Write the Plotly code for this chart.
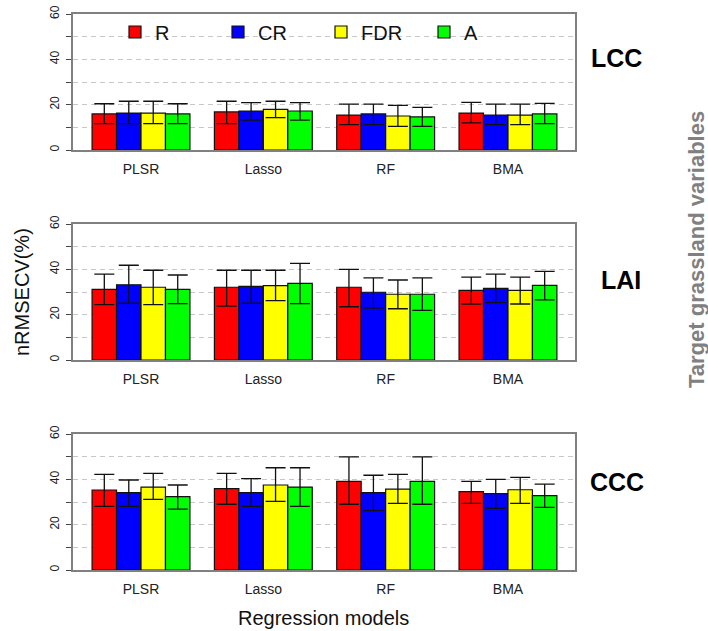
import plotly.graph_objects as go

W, H = 708, 631

models = ["PLSR", "Lasso", "RF", "BMA"]
methods = ["R", "CR", "FDR", "A"]
colors = {"R": "#FF0000", "CR": "#0000FF", "FDR": "#FFFF00", "A": "#00FF00"}
variables = ["LCC", "LAI", "CCC"]

# bar heights (nRMSECV %) per variable and method, in the order of models
mean_LCC = {"R": [15.9, 16.8, 15.4, 16.3], "CR": [16.3, 17.2, 15.9, 15.4],
            "FDR": [16.3, 17.9, 15.0, 15.4], "A": [15.9, 17.2, 14.6, 15.9]}
hi_LCC = {"R": [20.4, 21.5, 20.2, 21.0], "CR": [21.5, 20.9, 20.2, 20.2],
          "FDR": [21.5, 21.5, 19.7, 20.2], "A": [20.4, 20.9, 18.8, 20.6]}
lo_LCC = {"R": [11.6, 11.6, 11.2, 12.0], "CR": [11.6, 13.2, 11.2, 11.2],
          "FDR": [11.6, 14.3, 10.4, 11.2], "A": [11.6, 13.2, 10.4, 11.6]}

mean_LAI = {"R": [31.2, 32.1, 32.1, 30.7], "CR": [33.2, 32.5, 29.9, 31.6],
            "FDR": [32.1, 32.8, 29.0, 30.7], "A": [31.2, 33.8, 29.0, 32.9]}
hi_LAI = {"R": [37.9, 39.6, 40.0, 36.6], "CR": [41.8, 39.6, 36.2, 37.9],
          "FDR": [39.6, 39.6, 35.3, 36.6], "A": [37.5, 42.6, 36.2, 39.1]}
lo_LAI = {"R": [24.4, 23.8, 23.5, 24.7], "CR": [25.1, 25.1, 22.9, 25.3],
          "FDR": [24.4, 26.2, 22.6, 24.7], "A": [24.9, 24.9, 21.9, 26.5]}

mean_CCC = {"R": [35.3, 35.9, 39.1, 34.6], "CR": [34.1, 34.1, 34.1, 33.7],
            "FDR": [36.6, 37.5, 35.7, 35.4], "A": [32.4, 36.6, 39.1, 32.8]}
hi_CCC = {"R": [42.2, 42.6, 49.9, 39.1], "CR": [39.7, 40.3, 41.8, 40.0],
          "FDR": [42.6, 45.1, 42.2, 40.9], "A": [37.5, 45.1, 49.9, 37.9]}
lo_CCC = {"R": [28.1, 29.0, 29.0, 29.4], "CR": [28.1, 28.1, 26.2, 27.2],
          "FDR": [31.2, 30.3, 29.4, 29.4], "A": [26.9, 28.1, 29.0, 27.6]}

y_tickvals = [0, 10, 20, 30, 40, 50, 60]
y_ticktext = ["0", "", "20", "", "40", "", "60"]

data = {"LCC": (mean_LCC, hi_LCC, lo_LCC),
        "LAI": (mean_LAI, hi_LAI, lo_LAI),
        "CCC": (mean_CCC, hi_CCC, lo_CCC)}

FONT = "Liberation Sans, Arial, sans-serif"

# panel geometry in pixels (top, bottom)
x_px = (73, 575)
panels_px = [(14, 150), (224, 360), (434, 570)]

fig = go.Figure()
layout = dict(
    width=W, height=H, margin=dict(l=0, r=0, t=0, b=0, pad=0, autoexpand=False),
    paper_bgcolor="white", plot_bgcolor="white",
    barmode="group", bargap=0.2, bargroupgap=0,
    font=dict(family=FONT, color="#222222"),
    showlegend=True,
)

for i, var in enumerate(variables):
    mean, hi, lo = data[var]
    xa = "x" if i == 0 else f"x{i+1}"
    ya = "y" if i == 0 else f"y{i+1}"
    for m in methods:
        up = [h - v for h, v in zip(hi[m], mean[m])]
        dn = [v - l for v, l in zip(mean[m], lo[m])]
        fig.add_trace(go.Bar(
            x=models, y=mean[m], name=m, xaxis=xa, yaxis=ya,
            marker=dict(color=colors[m], line=dict(color="#111111", width=1.2)),
            error_y=dict(type="data", array=up, arrayminus=dn, symmetric=False,
                         color="#111111", thickness=1.3, width=10),
            showlegend=(i == 0), legendgroup=m,
        ))
    top, bot = panels_px[i]
    xkey = "xaxis" if i == 0 else f"xaxis{i+1}"
    ykey = "yaxis" if i == 0 else f"yaxis{i+1}"
    layout[xkey] = dict(
        domain=[x_px[0] / W, x_px[1] / W], anchor=ya,
        range=[-0.556, 3.548], type="category",
        showline=True, mirror=True, linecolor="#808080", linewidth=2,
        ticks="", showgrid=False, zeroline=False, ticklabelstandoff=5,
        tickfont=dict(size=14, color="#222222"),
    )
    layout[ykey] = dict(
        domain=[1 - bot / H, 1 - top / H], anchor=xa,
        range=[0, 60], tickvals=y_tickvals, ticktext=y_ticktext,
        tickangle=-90, ticks="outside", ticklen=5, tickwidth=1.3, tickcolor="#444444",
        showline=True, mirror=True, linecolor="#808080", linewidth=2,
        showgrid=True, gridcolor="#C8C8C8", griddash="5px,4px", gridwidth=1,
        zeroline=False, ticklabelstandoff=2, tickfont=dict(size=12, color="#222222"),
    )

layout["legend"] = dict(
    orientation="h", x=115 / W, y=1 - 32 / H, xanchor="left", yanchor="middle",
    bgcolor="rgba(0,0,0,0)", borderwidth=0, font=dict(size=20, color="#111111"),
    entrywidth=58, entrywidthmode="pixels", itemclick=False, traceorder="normal",
)

annotations = []
label_pos = {"LCC": (616, 58), "LAI": (621, 280), "CCC": (617, 482)}
for var in variables:
    px, py = label_pos[var]
    annotations.append(dict(text=f"<b>{var}</b>", x=px / W, y=1 - py / H,
                            xref="paper", yref="paper", showarrow=False,
                            font=dict(size=25, color="#000000", family=FONT),
                            xanchor="center", yanchor="middle"))
annotations.append(dict(text="nRMSECV(%)", x=22 / W, y=1 - 292 / H, xref="paper", yref="paper",
                        showarrow=False, textangle=-90, font=dict(size=20, color="#111111"),
                        xanchor="center", yanchor="middle"))
annotations.append(dict(text="Regression models", x=323 / W, y=1 - 618 / H, xref="paper", yref="paper",
                        showarrow=False, font=dict(size=20, color="#111111"),
                        xanchor="center", yanchor="middle"))
annotations.append(dict(text="<b>Target grassland variables</b>", x=696 / W, y=1 - 250 / H,
                        xref="paper", yref="paper", showarrow=False, textangle=-90,
                        font=dict(size=22, color="#808080"),
                        xanchor="center", yanchor="middle"))
layout["annotations"] = annotations

fig.update_layout(**layout)
fig.write_html("out.html")
